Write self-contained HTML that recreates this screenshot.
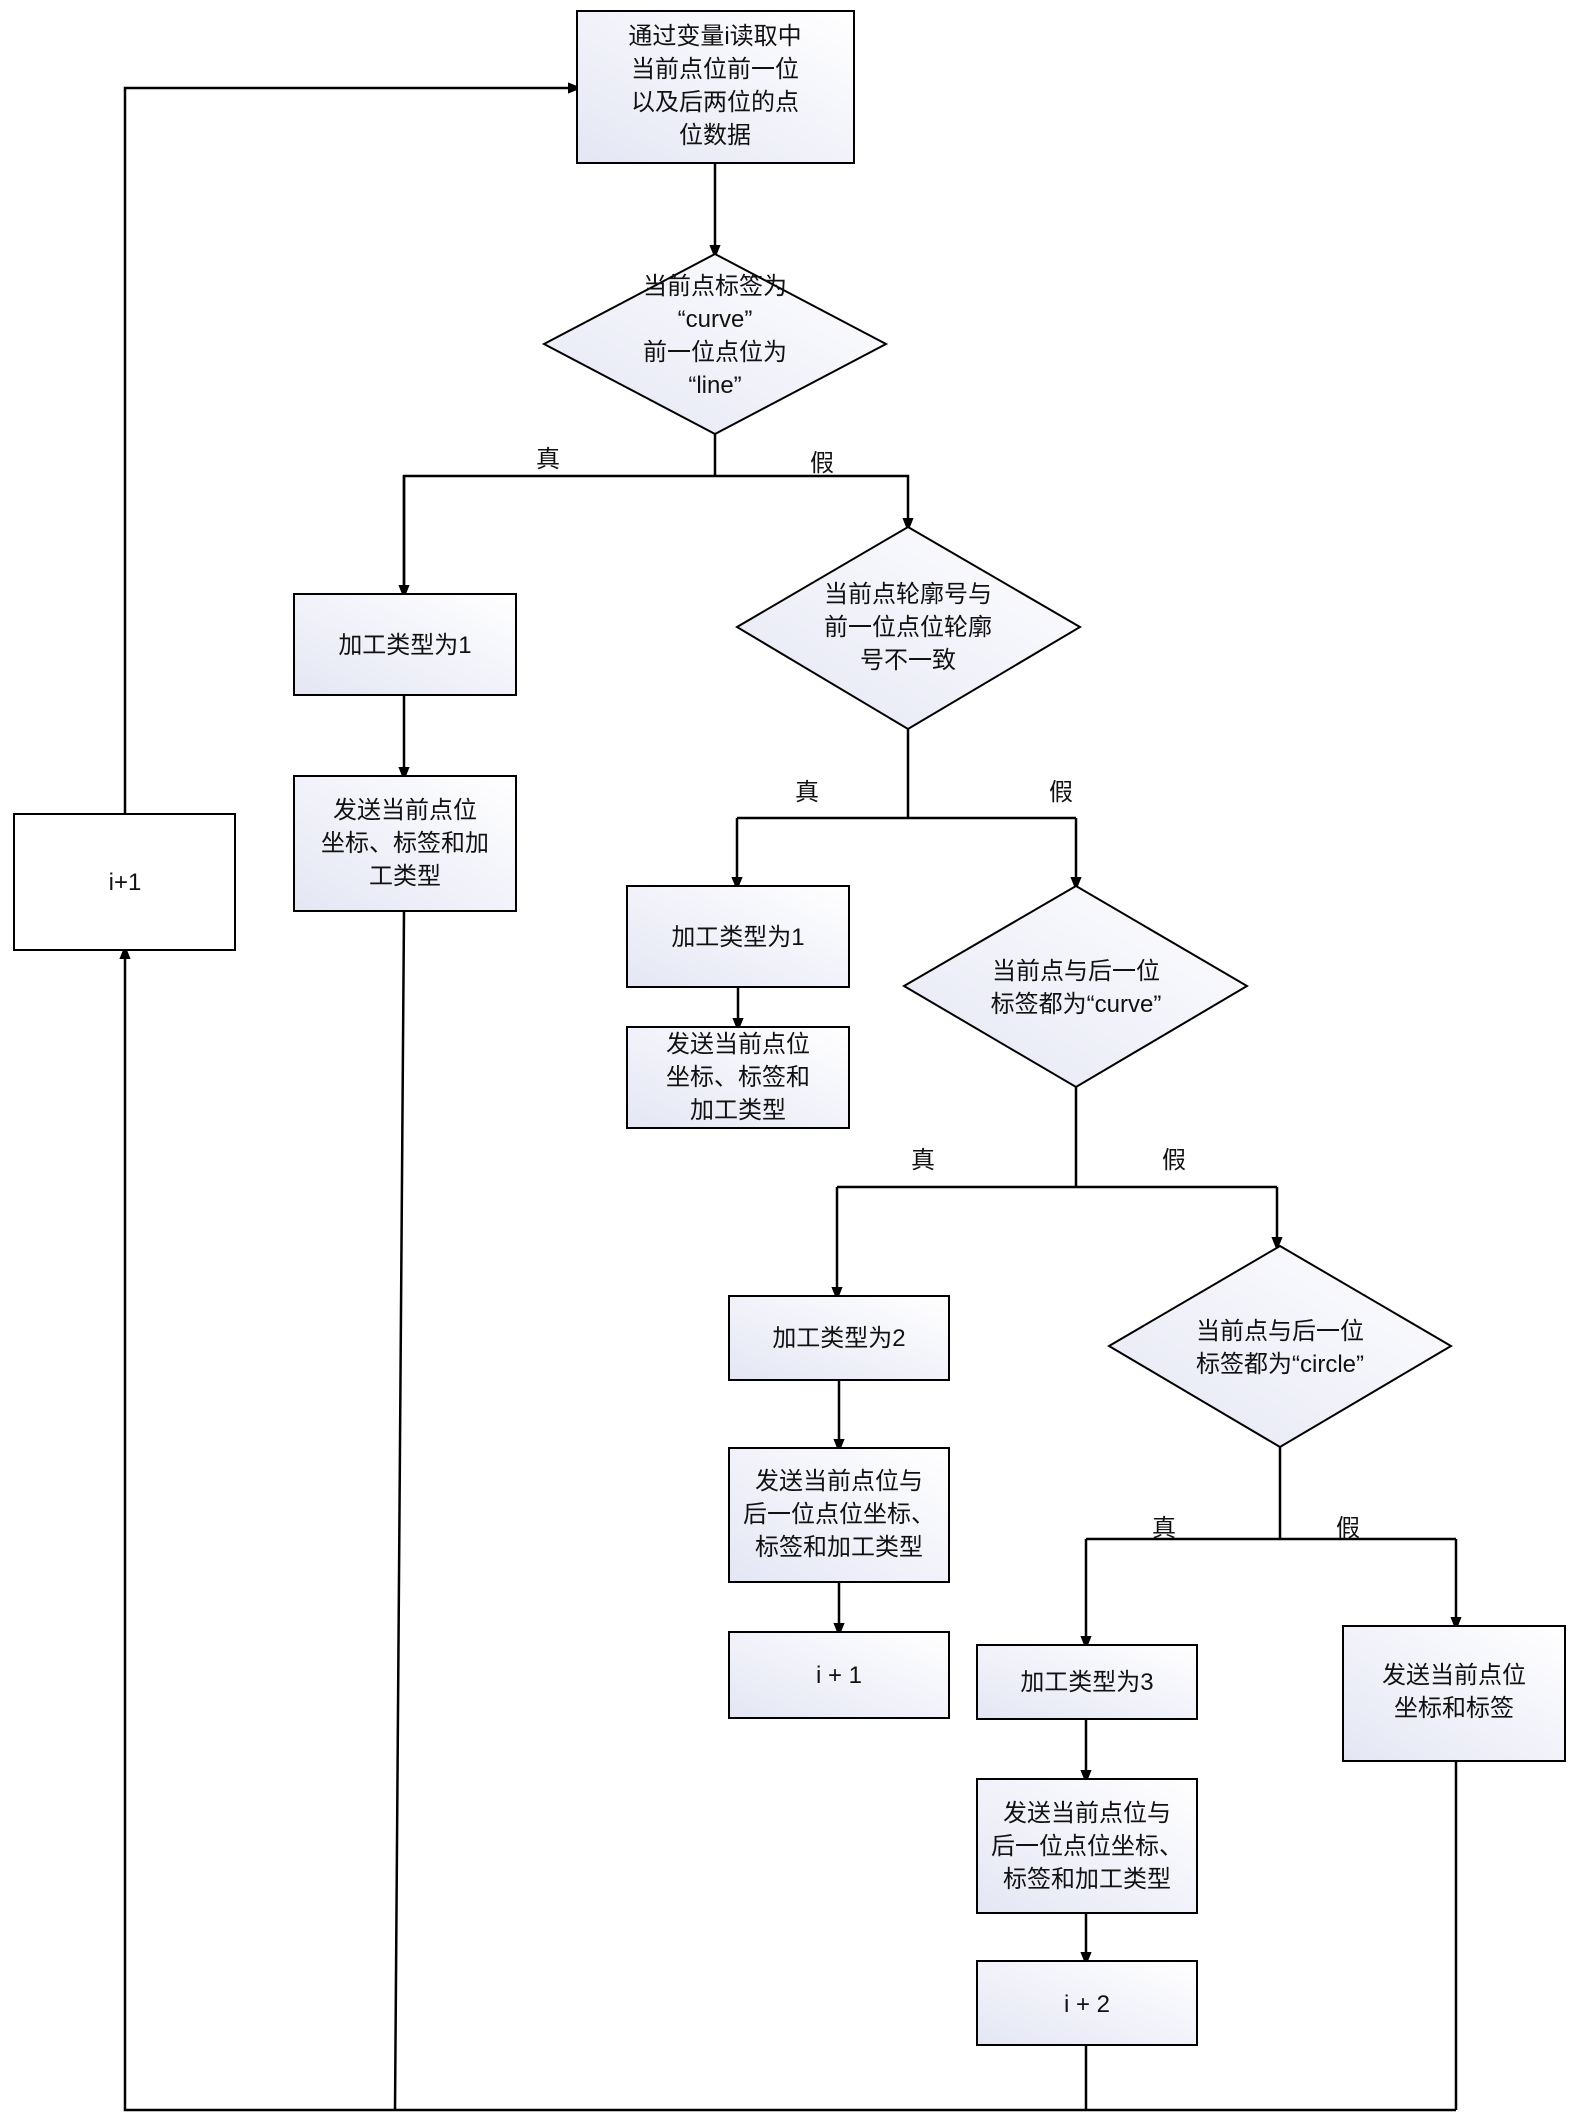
<!DOCTYPE html>
<html><head><meta charset="utf-8"><style>
html,body{margin:0;padding:0;background:#fff}
svg{display:block}
text{font-family:"Liberation Sans","Noto Sans CJK SC",sans-serif;font-size:24px;fill:#111;text-anchor:middle}
</style></head><body>
<svg width="1574" height="2126" viewBox="0 0 1574 2126" xmlns="http://www.w3.org/2000/svg">
<defs>
<linearGradient id="g" x1="1" y1="0" x2="0" y2="1">
<stop offset="0" stop-color="#ffffff"/><stop offset="1" stop-color="#e4e6f4"/>
</linearGradient>
<marker id="a" markerWidth="14" markerHeight="20" refX="10" refY="10" orient="auto" markerUnits="userSpaceOnUse" viewBox="0 0 20 20">
<path d="M0,2 L20,10 L0,18 z" fill="#000"/>
</marker>
</defs>
<g stroke="#000" stroke-width="2.5" fill="none">
<!-- top box to d1 -->
<line x1="715" y1="163" x2="715" y2="252" marker-end="url(#a)"/>
<!-- d1 branch -->
<polyline points="715,434 715,476"/>
<polyline points="404,592 404,476 908,476 908,525" marker-end="url(#a)"/>
<line x1="404" y1="476" x2="404" y2="592" marker-end="url(#a)"/>
<line x1="404" y1="695" x2="404" y2="774" marker-end="url(#a)"/>
<line x1="404" y1="911" x2="395" y2="2110"/>
<!-- d2 branch -->
<line x1="908" y1="729" x2="908" y2="818"/>
<polyline points="737,818 1076,818"/>
<line x1="737" y1="818" x2="737" y2="884" marker-end="url(#a)"/>
<line x1="1076" y1="818" x2="1076" y2="884" marker-end="url(#a)"/>
<line x1="738" y1="987" x2="738" y2="1025" marker-end="url(#a)"/>
<!-- d3 branch -->
<line x1="1076" y1="1087" x2="1076" y2="1187"/>
<polyline points="837,1187 1277,1187"/>
<line x1="837" y1="1187" x2="837" y2="1294" marker-end="url(#a)"/>
<line x1="1277" y1="1187" x2="1277" y2="1244" marker-end="url(#a)"/>
<line x1="839" y1="1380" x2="839" y2="1446" marker-end="url(#a)"/>
<line x1="839" y1="1582" x2="839" y2="1630" marker-end="url(#a)"/>
<!-- d4 branch -->
<line x1="1280" y1="1447" x2="1280" y2="1539"/>
<polyline points="1086,1539 1456,1539"/>
<line x1="1086" y1="1539" x2="1086" y2="1643" marker-end="url(#a)"/>
<line x1="1456" y1="1539" x2="1456" y2="1624" marker-end="url(#a)"/>
<line x1="1086" y1="1719" x2="1086" y2="1777" marker-end="url(#a)"/>
<line x1="1086" y1="1913" x2="1086" y2="1959" marker-end="url(#a)"/>
<line x1="1086" y1="2045" x2="1086" y2="2110"/>
<line x1="1456" y1="1761" x2="1456" y2="2110"/>
<!-- bottom return -->
<polyline points="1456,2110 125,2110 125,952" marker-end="url(#a)"/>
<polyline points="125,814 125,88 575,88" marker-end="url(#a)"/>
</g>
<g stroke="#000" stroke-width="2" fill="url(#g)">
<rect x="577" y="11" width="277" height="152"/>
<polygon points="715,254 886,344 715,434 544,344"/>
<rect x="294" y="594" width="222" height="101"/>
<rect x="294" y="776" width="222" height="135"/>
<rect x="14" y="814" width="221" height="136" fill="#fff"/>
<polygon points="908,527 1080,627 908,729 737,627"/>
<rect x="627" y="886" width="222" height="101"/>
<rect x="627" y="1027" width="222" height="101"/>
<polygon points="1076,886 1247,986 1076,1087 904,986"/>
<rect x="729" y="1296" width="220" height="84"/>
<rect x="729" y="1448" width="220" height="134"/>
<rect x="729" y="1632" width="220" height="86"/>
<polygon points="1280,1246 1451,1346 1280,1447 1109,1346"/>
<rect x="977" y="1645" width="220" height="74"/>
<rect x="977" y="1779" width="220" height="134"/>
<rect x="977" y="1961" width="220" height="84"/>
<rect x="1343" y="1626" width="222" height="135"/>
</g>
<text x="715" y="44">通过变量i读取中</text>
<text x="715" y="77">当前点位前一位</text>
<text x="715" y="110">以及后两位的点</text>
<text x="715" y="143">位数据</text>
<text x="715" y="294">当前点标签为</text>
<text x="715" y="327">“curve”</text>
<text x="715" y="360">前一位点位为</text>
<text x="715" y="393">“line”</text>
<text x="548" y="467">真</text>
<text x="822" y="471">假</text>
<text x="405" y="653">加工类型为1</text>
<text x="405" y="818">发送当前点位</text>
<text x="405" y="851">坐标、标签和加</text>
<text x="405" y="884">工类型</text>
<text x="125" y="890">i+1</text>
<text x="908" y="602">当前点轮廓号与</text>
<text x="908" y="635">前一位点位轮廓</text>
<text x="908" y="668">号不一致</text>
<text x="807" y="800">真</text>
<text x="1061" y="800">假</text>
<text x="738" y="945">加工类型为1</text>
<text x="738" y="1052">发送当前点位</text>
<text x="738" y="1085">坐标、标签和</text>
<text x="738" y="1118">加工类型</text>
<text x="1076" y="979">当前点与后一位</text>
<text x="1076" y="1012">标签都为“curve”</text>
<text x="923" y="1168">真</text>
<text x="1174" y="1168">假</text>
<text x="839" y="1346">加工类型为2</text>
<text x="839" y="1489">发送当前点位与</text>
<text x="839" y="1522">后一位点位坐标、</text>
<text x="839" y="1555">标签和加工类型</text>
<text x="839" y="1683">i + 1</text>
<text x="1280" y="1339">当前点与后一位</text>
<text x="1280" y="1372">标签都为“circle”</text>
<text x="1164" y="1536">真</text>
<text x="1348" y="1536">假</text>
<text x="1087" y="1690">加工类型为3</text>
<text x="1087" y="1821">发送当前点位与</text>
<text x="1087" y="1854">后一位点位坐标、</text>
<text x="1087" y="1887">标签和加工类型</text>
<text x="1087" y="2012">i + 2</text>
<text x="1454" y="1683">发送当前点位</text>
<text x="1454" y="1716">坐标和标签</text>
</svg>
</body></html>
